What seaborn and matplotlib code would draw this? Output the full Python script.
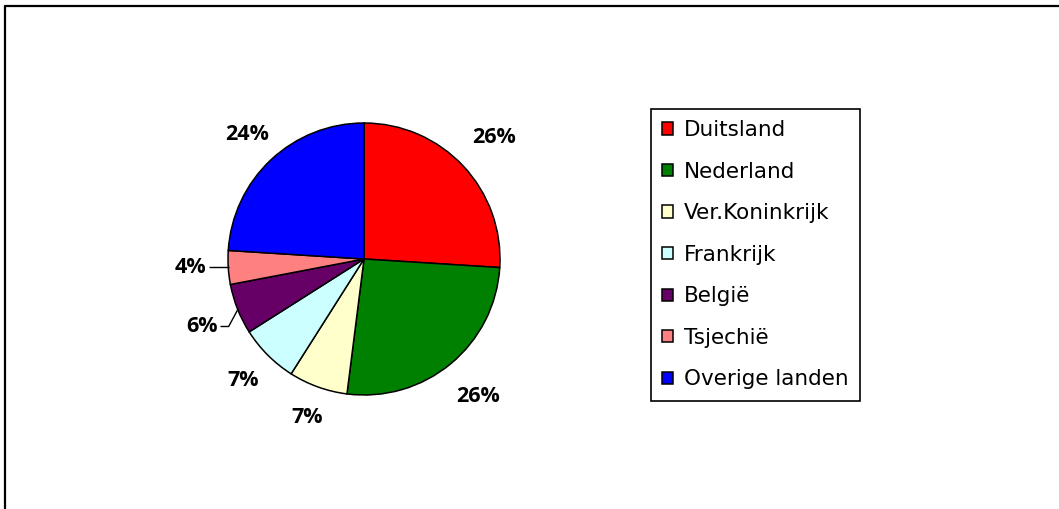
"""
Pie chart: share per country of origin (Dutch labels), recreated with seaborn styling.
"""

import numpy as np
import matplotlib
matplotlib.use("Agg")
import matplotlib.pyplot as plt
from matplotlib.lines import Line2D
import seaborn as sns

# ── Data ──────────────────────────────────────────────────────────────────────
countries = ["Duitsland", "Nederland", "Ver.Koninkrijk", "Frankrijk",
             "België", "Tsjechië", "Overige landen"]
shares = [26, 26, 7, 7, 6, 4, 24]
colors = ["#FF0000", "#008000", "#FFFFCC", "#CCFFFF",
          "#660066", "#FF8080", "#0000FF"]

# label distance (in radii) per slice; small slices get a leader line instead
label_dist = [1.31, 1.31, 1.24, 1.26, None, None, 1.26]
# leader: (knee offset from wedge edge, horizontal arm length), in radii
leaders = {4: ((-0.07, -0.13), 0.06), 5: ((0.0, 0.0), 0.15)}

# ── Style ─────────────────────────────────────────────────────────────────────
sns.set_theme(style="white")
plt.rcParams.update({
    "font.family": ["DejaVu Sans"],
    "text.color": "black",
})

W, H = 1059, 509
fig = plt.figure(figsize=(W / 100, H / 100), dpi=100)
fig.patch.set_facecolor("white")

# outer frame (only left and top edges visible in crop)
fig.add_artist(Line2D([5 / W, 5 / W], [0, 1 - 6 / H], color="black", lw=1.6,
                      transform=fig.transFigure))
fig.add_artist(Line2D([5 / W, 1], [1 - 6 / H, 1 - 6 / H], color="black", lw=1.6,
                      transform=fig.transFigure))

# ── Pie ───────────────────────────────────────────────────────────────────────
cx, cy, r = 364, 259, 136
ax = fig.add_axes([(cx - r) / W, (H - cy - r) / H, 2 * r / W, 2 * r / H])
wedges, _ = ax.pie(shares, colors=colors, startangle=90, counterclock=False,
                   radius=1, wedgeprops={"edgecolor": "black", "linewidth": 1.1})
ax.set_xlim(-1, 1)
ax.set_ylim(-1, 1)
ax.set_aspect("auto")
ax.axis("off")

total = sum(shares)
lab_kw = dict(fontsize=15.5, fontweight="bold", va="center", color="black",
              family=["Open Sans", "DejaVu Sans"])
for i, (w, val) in enumerate(zip(wedges, shares)):
    ang = np.deg2rad((w.theta1 + w.theta2) / 2)
    x, y = np.cos(ang), np.sin(ang)
    txt = f"{val / total * 100:.0f}%"
    if i in leaders:
        (kx, ky), arm = leaders[i]
        px, py = 0.995 * x, 0.995 * y
        knee = (px + kx, py + ky)
        end = (knee[0] - arm, knee[1])
        ax.plot([px, knee[0], end[0]], [py, knee[1], end[1]],
                color="black", lw=1, clip_on=False, solid_capstyle="butt")
        ax.text(end[0] - 0.02, end[1], txt, ha="right", **lab_kw)
    else:
        d = label_dist[i]
        ax.text(d * x, d * y, txt, ha="center", **lab_kw)

# ── Legend ────────────────────────────────────────────────────────────────────
leg = fig.legend(wedges, countries, loc="upper left",
                 bbox_to_anchor=(651 / W, 1 - 109 / H),
                 fontsize=15.5, frameon=True, fancybox=False, framealpha=1,
                 edgecolor="black", handlelength=0.5, handleheight=0.5,
                 handletextpad=0.5, labelspacing=1.0, borderpad=0.52,
                 borderaxespad=0)
leg.get_frame().set_linewidth(1.2)
for t in leg.get_texts():
    t.set_color("black")

fig.savefig("out.png", dpi=100)
